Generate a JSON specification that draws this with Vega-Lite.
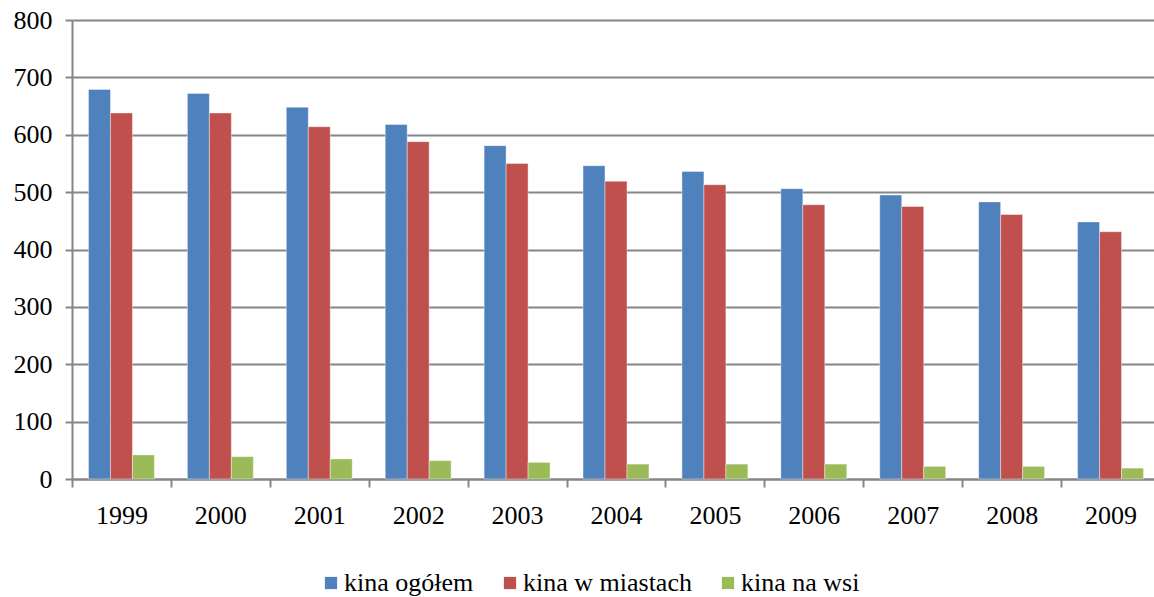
{
  "$schema": "https://vega.github.io/schema/vega-lite/v6.json",
  "width": 1088,
  "height": 459,
  "autosize": {"type": "none"},
  "padding": {"left": 72, "top": 20, "right": -6, "bottom": 118},
  "background": "white",
  "data": {
    "values": [
      {"rok": "1999", "seria": "kina ogółem", "liczba": 679},
      {"rok": "1999", "seria": "kina w miastach", "liczba": 638},
      {"rok": "1999", "seria": "kina na wsi", "liczba": 42},
      {"rok": "2000", "seria": "kina ogółem", "liczba": 672},
      {"rok": "2000", "seria": "kina w miastach", "liczba": 638},
      {"rok": "2000", "seria": "kina na wsi", "liczba": 39},
      {"rok": "2001", "seria": "kina ogółem", "liczba": 648},
      {"rok": "2001", "seria": "kina w miastach", "liczba": 614},
      {"rok": "2001", "seria": "kina na wsi", "liczba": 35},
      {"rok": "2002", "seria": "kina ogółem", "liczba": 618},
      {"rok": "2002", "seria": "kina w miastach", "liczba": 588},
      {"rok": "2002", "seria": "kina na wsi", "liczba": 32},
      {"rok": "2003", "seria": "kina ogółem", "liczba": 581},
      {"rok": "2003", "seria": "kina w miastach", "liczba": 550},
      {"rok": "2003", "seria": "kina na wsi", "liczba": 29},
      {"rok": "2004", "seria": "kina ogółem", "liczba": 546},
      {"rok": "2004", "seria": "kina w miastach", "liczba": 519},
      {"rok": "2004", "seria": "kina na wsi", "liczba": 26},
      {"rok": "2005", "seria": "kina ogółem", "liczba": 536},
      {"rok": "2005", "seria": "kina w miastach", "liczba": 513},
      {"rok": "2005", "seria": "kina na wsi", "liczba": 26},
      {"rok": "2006", "seria": "kina ogółem", "liczba": 506},
      {"rok": "2006", "seria": "kina w miastach", "liczba": 478},
      {"rok": "2006", "seria": "kina na wsi", "liczba": 26},
      {"rok": "2007", "seria": "kina ogółem", "liczba": 495},
      {"rok": "2007", "seria": "kina w miastach", "liczba": 475},
      {"rok": "2007", "seria": "kina na wsi", "liczba": 22},
      {"rok": "2008", "seria": "kina ogółem", "liczba": 483},
      {"rok": "2008", "seria": "kina w miastach", "liczba": 461},
      {"rok": "2008", "seria": "kina na wsi", "liczba": 22},
      {"rok": "2009", "seria": "kina ogółem", "liczba": 448},
      {"rok": "2009", "seria": "kina w miastach", "liczba": 431},
      {"rok": "2009", "seria": "kina na wsi", "liczba": 19}
    ]
  },
  "mark": {"type": "bar", "stroke": "white", "strokeOpacity": 0.5, "strokeWidth": 0.8},
  "encoding": {
    "x": {
      "field": "rok",
      "type": "nominal",
      "scale": {"paddingInner": 0, "paddingOuter": 0},
      "axis": {
        "title": null,
        "labelAngle": 0,
        "labelFont": "Liberation Serif",
        "labelFontSize": 26,
        "labelColor": "black",
        "labelPadding": 15,
        "tickBand": "extent",
        "tickSize": 8,
        "tickColor": "#868686",
        "tickWidth": 2,
        "domainColor": "#868686",
        "domainWidth": 2,
        "grid": false
      }
    },
    "xOffset": {
      "field": "seria",
      "sort": ["kina ogółem", "kina w miastach", "kina na wsi"],
      "scale": {"paddingInner": 0, "paddingOuter": 0.75}
    },
    "y": {
      "field": "liczba",
      "type": "quantitative",
      "scale": {"domain": [0, 800], "nice": false},
      "axis": {
        "title": null,
        "values": [0, 100, 200, 300, 400, 500, 600, 700, 800],
        "labelFont": "Liberation Serif",
        "labelFontSize": 26,
        "labelColor": "black",
        "labelPadding": 13,
        "tickSize": 7,
        "tickColor": "#868686",
        "tickWidth": 2,
        "domainColor": "#868686",
        "domainWidth": 2,
        "gridColor": "#868686",
        "gridWidth": 2
      }
    },
    "color": {
      "field": "seria",
      "type": "nominal",
      "sort": ["kina ogółem", "kina w miastach", "kina na wsi"],
      "scale": {
        "domain": ["kina ogółem", "kina w miastach", "kina na wsi"],
        "range": ["#4F81BD", "#C0504D", "#9BBB59"]
      },
      "legend": {
        "title": null,
        "orient": "none",
        "legendX": 246,
        "legendY": 550,
        "padding": 0,
        "direction": "horizontal",
        "symbolType": "square",
        "symbolSize": 150,
        "symbolStrokeWidth": 0,
        "labelFont": "Liberation Serif",
        "labelFontSize": 26,
        "labelLimit": 400,
        "labelColor": "black",
        "labelOffset": 0,
        "columnPadding": 23
      }
    }
  },
  "config": {
    "font": "Liberation Serif",
    "view": {"stroke": null}
  }
}
